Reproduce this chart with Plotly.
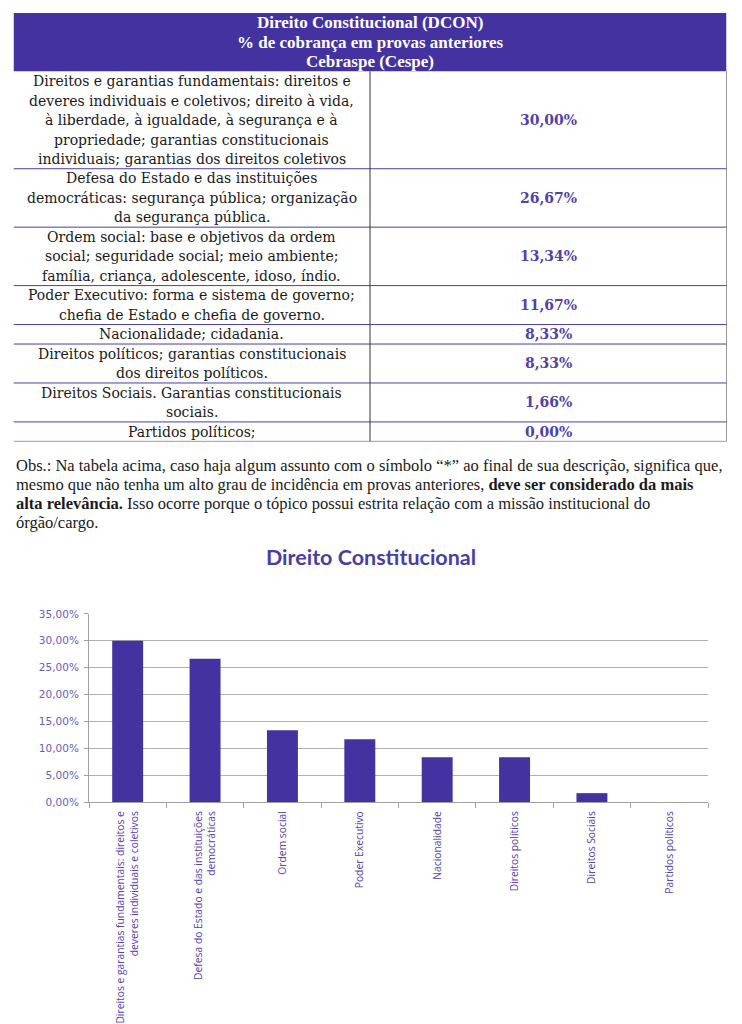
import plotly.graph_objects as go

# ---------------- data ----------------
topics_full = [
    "Direitos e garantias fundamentais: direitos e<br>deveres individuais e coletivos; direito à vida,<br>à liberdade, à igualdade, à segurança e à<br>propriedade; garantias constitucionais<br>individuais; garantias dos direitos coletivos",
    "Defesa do Estado e das instituições<br>democráticas: segurança pública; organização<br>da segurança pública.",
    "Ordem social: base e objetivos da ordem<br>social; seguridade social; meio ambiente;<br>família, criança, adolescente, idoso, índio.",
    "Poder Executivo: forma e sistema de governo;<br>chefia de Estado e chefia de governo.",
    "Nacionalidade; cidadania.",
    "Direitos políticos; garantias constitucionais<br>dos direitos políticos.",
    "Direitos Sociais. Garantias constitucionais<br>sociais.",
    "Partidos políticos;",
]
pct_labels = ["30,00%", "26,67%", "13,34%", "11,67%", "8,33%", "8,33%", "1,66%", "0,00%"]
short_labels = [
    "Direitos e garantias fundamentais: direitos e<br>deveres individuais e coletivos",
    "Defesa do Estado e das instituições<br>democráticas",
    "Ordem social",
    "Poder Executivo",
    "Nacionalidade",
    "Direitos políticos",
    "Direitos Sociais",
    "Partidos políticos",
]
values = [0.3000, 0.2667, 0.1334, 0.1167, 0.0833, 0.0833, 0.0166, 0.0000]
header_lines = ["Direito Constitucional (DCON)", "% de cobrança em provas anteriores", "Cebraspe (Cespe)"]
obs_lines = [
    "Obs.: Na tabela acima, caso haja algum assunto com o símbolo “*” ao final de sua descrição, significa que,",
    "mesmo que não tenha um alto grau de incidência em provas anteriores, <b>deve ser considerado da mais</b>",
    "<b>alta relevância.</b> Isso ocorre porque o tópico possui estrita relação com a missão institucional do",
    "órgão/cargo.",
]
chart_title = "Direito Constitucional"
y_ticks = [0, 0.05, 0.10, 0.15, 0.20, 0.25, 0.30, 0.35]

PURPLE = "#4332A0"
ROWLINE = "#4B3FA6"
W, H = 742, 1024

fig = go.Figure()

# ---------------- bar chart ----------------
fig.add_trace(go.Bar(
    x=short_labels, y=values,
    marker=dict(color=PURPLE, line=dict(width=0)),
    xaxis="x", yaxis="y",
    hoverinfo="skip",
))

# ---------------- table (drawn on its own axes, in "text line" units) ----------------
row_lines = [len(t.split("<br>")) for t in topics_full]
n_header = len(header_lines)
total_units = n_header + sum(row_lines)

shapes = []
annotations = []

# header background
shapes.append(dict(type="rect", xref="x2", yref="y2", x0=0, x1=2, y0=0, y1=n_header,
                   fillcolor=PURPLE, line=dict(width=0), layer="below"))
for i, txt in enumerate(header_lines):
    annotations.append(dict(text="<b>%s</b>" % txt, xref="x2", yref="y2", x=1, y=i + 0.5,
                            showarrow=False, xanchor="center", yanchor="middle",
                            font=dict(family="Liberation Serif", size=17, color="white")))

# body rows
start = n_header
for topic, pct, nl in zip(topics_full, pct_labels, row_lines):
    end = start + nl
    for j, line in enumerate(topic.split("<br>")):
        annotations.append(dict(text=line, xref="x2", yref="y2", x=0.5, y=start + j + 0.5,
                                showarrow=False, xanchor="center", yanchor="middle",
                                font=dict(family="DejaVu Serif", size=14, color="#1a1a1a")))
    annotations.append(dict(text="<b>%s</b>" % pct, xref="x2", yref="y2", x=1.5, y=(start + end) / 2,
                            showarrow=False, xanchor="center", yanchor="middle",
                            font=dict(family="DejaVu Serif", size=14, color="#5142AA")))
    shapes.append(dict(type="line", xref="x2", yref="y2", x0=0, x1=2, y0=end, y1=end,
                       line=dict(color=ROWLINE, width=1)))
    start = end

# vertical lines (middle and right border)
for xv in (1, 2):
    shapes.append(dict(type="line", xref="x2", yref="y2", x0=xv, x1=xv, y0=n_header, y1=total_units,
                       line=dict(color="#333333", width=1)))

# ---------------- observation text ----------------
obs_top, obs_step = 465, 19.3
for k, line in enumerate(obs_lines):
    annotations.append(dict(text=line, xref="paper", yref="paper",
                            x=14 / W, y=1 - (obs_top + k * obs_step) / H,
                            xanchor="left", yanchor="middle", align="left", showarrow=False,
                            font=dict(family="Liberation Serif", size=16.5, color="#1a1a1a")))

fig.update_layout(
    width=W, height=H,
    margin=dict(l=0, r=0, t=0, b=0),
    paper_bgcolor="white", plot_bgcolor="white",
    separators=",.",
    showlegend=False,
    bargap=0.6,
    title=dict(text="<b>%s</b>" % chart_title, x=0.5, xanchor="center",
               y=1 - 557 / H, yanchor="middle",
               font=dict(family="Lato", size=21.5, color="#4A3DA6")),
    xaxis=dict(
        domain=[89 / W, 708 / W],
        type="category",
        tickson="boundaries",
        ticks="outside", ticklen=5, tickcolor="#A0A0A0",
        showline=True, linecolor="#A0A0A0", linewidth=1,
        showgrid=False,
        tickangle=-90,
        ticklabelstandoff=4,
        tickfont=dict(family="Open Sans", size=10.3, color="#5545B0"),
        anchor="y",
    ),
    yaxis=dict(
        domain=[1 - 806.3 / H, 1 - 615.7 / H],
        range=[0, 0.35],
        tickvals=y_ticks,
        tickformat=".2%",
        ticks="outside", ticklen=4, tickcolor="#A0A0A0",
        showline=True, linecolor="#A0A0A0", linewidth=1,
        showgrid=True, gridcolor="#B0B0B0", gridwidth=1,
        zeroline=False,
        ticklabelstandoff=3,
        tickfont=dict(family="DejaVu Sans", size=10.5, color="#6A5CC0"),
        anchor="x",
    ),
    xaxis2=dict(domain=[13.5 / W, 726.5 / W], range=[0, 2], visible=False, fixedrange=True, anchor="y2"),
    yaxis2=dict(domain=[1 - 441 / H, 1 - 7 / H], range=[total_units, 0], visible=False, fixedrange=True,
                anchor="x2"),
    shapes=shapes,
    annotations=annotations,
)

fig.write_html("out.html", config={"displayModeBar": False},
               post_script="document.body.style.margin='0px';")
